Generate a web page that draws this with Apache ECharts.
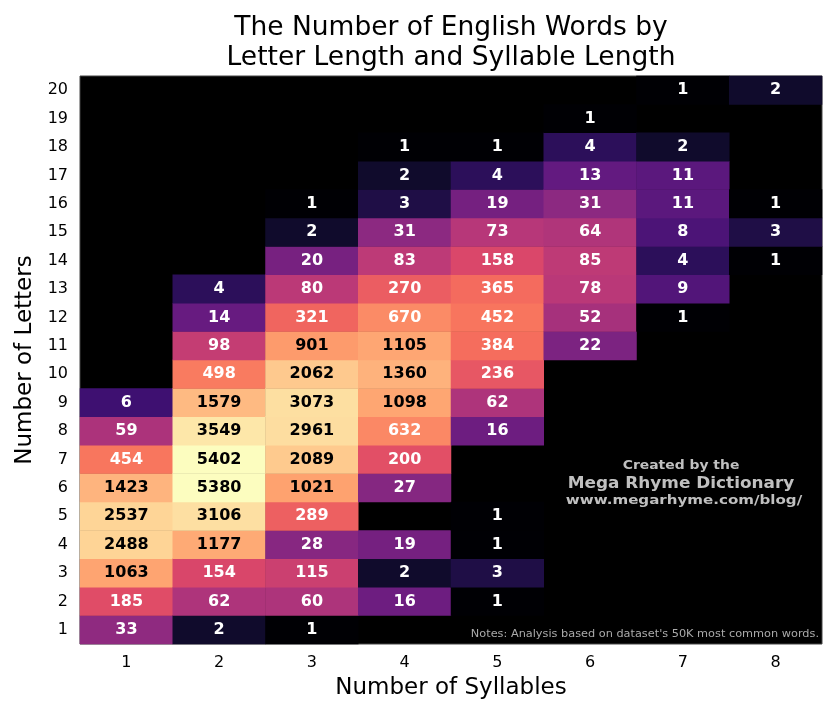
<!DOCTYPE html>
<html style="height: 100%" lang="en">
<head>
    <meta charset="UTF-8">
    <title>English Words by Letter and Syllable Length</title>
</head>
<body style="height: 100%; margin: 0; background: #fff">
<div id="main" style="width: 840px; height: 720px"></div>

<script src="https://cdn.jsdelivr.net/npm/echarts@6/dist/echarts.min.js"></script>
<script type="text/javascript">

    // categories
    var syllables = ['1', '2', '3', '4', '5', '6', '7', '8'];
    var letters = ['1', '2', '3', '4', '5', '6', '7', '8', '9', '10',
                   '11', '12', '13', '14', '15', '16', '17', '18', '19', '20'];

    // word counts per syllable column, letters 1..20 (null = no words)
    var syl1 = [33, 185, 1063, 2488, 2537, 1423, 454, 59, 6, null, null, null, null, null, null, null, null, null, null, null];
    var syl2 = [2, 62, 154, 1177, 3106, 5380, 5402, 3549, 1579, 498, 98, 14, 4, null, null, null, null, null, null, null];
    var syl3 = [1, 60, 115, 28, 289, 1021, 2089, 2961, 3073, 2062, 901, 321, 80, 20, 2, 1, null, null, null, null];
    var syl4 = [null, 16, 2, 19, null, 27, 200, 632, 1098, 1360, 1105, 670, 270, 83, 31, 3, 2, 1, null, null];
    var syl5 = [null, 1, 3, 1, 1, null, null, 16, 62, 236, 384, 452, 365, 158, 73, 19, 4, 1, null, null];
    var syl6 = [null, null, null, null, null, null, null, null, null, null, 22, 52, 78, 85, 64, 31, 13, 4, 1, null];
    var syl7 = [null, null, null, null, null, null, null, null, null, null, null, 1, 9, 4, 8, 11, 11, 2, null, 1];
    var syl8 = [null, null, null, null, null, null, null, null, null, null, null, null, null, 1, 3, 1, null, null, null, 2];
    var columns = [syl1, syl2, syl3, syl4, syl5, syl6, syl7, syl8];

    // magma colormap stops
    var magma = ['#000004', '#140e36', '#3b0f70', '#641a80', '#8c2981', '#b73779',
                 '#de4968', '#f7705c', '#fe9f6d', '#fecf92', '#fcfdbf'];

    var font = 'DejaVu Sans';
    var maxCount = 0;
    var heatData = [];
    columns.forEach(function (col, x) {
        col.forEach(function (v, y) {
            if (v == null) return;
            if (v > maxCount) maxCount = v;
            heatData.push({
                value: [x, y, v, Math.log10(v)],
                label: { color: v > 800 ? '#000' : '#fff' }
            });
        });
    });

    var chart = echarts.init(document.getElementById('main'));

    var option = {
        backgroundColor: '#fff',
        animation: false,
        grid: {
            left: 80,
            right: 18,
            top: 76,
            bottom: 76,
            show: true,
            backgroundColor: '#000',
            borderColor: '#444',
            borderWidth: 1
        },
        xAxis: {
            type: 'category',
            data: syllables,
            name: 'Number of Syllables',
            nameLocation: 'middle',
            nameGap: 33,
            nameTextStyle: { fontFamily: font, fontSize: 23, color: '#000' },
            axisLine: { show: false },
            axisTick: { show: false },
            splitLine: { show: false },
            axisLabel: { fontFamily: font, fontSize: 16, color: '#000', margin: 11 }
        },
        yAxis: {
            type: 'category',
            data: letters,
            name: 'Number of Letters',
            nameLocation: 'middle',
            nameGap: 40,
            nameTextStyle: { fontFamily: font, fontSize: 23, color: '#000' },
            axisLine: { show: false },
            axisTick: { show: false },
            splitLine: { show: false },
            axisLabel: { fontFamily: font, fontSize: 16, color: '#000', margin: 12 }
        },
        visualMap: {
            show: false,
            dimension: 3,
            min: 0,
            max: Math.log10(maxCount),
            seriesIndex: 0,
            inRange: { color: magma }
        },
        series: [{
            type: 'heatmap',
            data: heatData,
            label: {
                show: true,
                fontFamily: font,
                fontSize: 16,
                fontWeight: 'bold',
                formatter: function (p) { return p.value[2]; }
            },
            emphasis: { disabled: true }
        }],
        graphic: [
            // title, centred over the plot area
            {
                type: 'text', x: 451, y: 43,
                style: {
                    text: 'The Number of English Words by\nLetter Length and Syllable Length',
                    fill: '#000', font: '26.5px "DejaVu Sans"',
                    align: 'center', verticalAlign: 'middle', lineHeight: 30
                }
            },
            {
                type: 'text', x: 681, y: 466, scaleX: 1.07,
                style: { text: 'Created by the', fill: '#c0c0c0', font: 'bold 13px "DejaVu Sans"', align: 'center', verticalAlign: 'middle' }
            },
            {
                type: 'text', x: 681, y: 484, scaleX: 1.055,
                style: { text: 'Mega Rhyme Dictionary', fill: '#c0c0c0', font: 'bold 16px "DejaVu Sans"', align: 'center', verticalAlign: 'middle' }
            },
            {
                type: 'text', x: 684, y: 501, scaleX: 1.16,
                style: { text: 'www.megarhyme.com/blog/', fill: '#c0c0c0', font: 'bold 13px "DejaVu Sans"', align: 'center', verticalAlign: 'middle' }
            },
            {
                type: 'text', x: 819, y: 634, scaleX: 1.13,
                style: { text: "Notes: Analysis based on dataset's 50K most common words.", fill: '#aaa', font: '10px "DejaVu Sans"', align: 'right', verticalAlign: 'middle' }
            }
        ]
    };

    chart.setOption(option);

</script>
</body>
</html>
